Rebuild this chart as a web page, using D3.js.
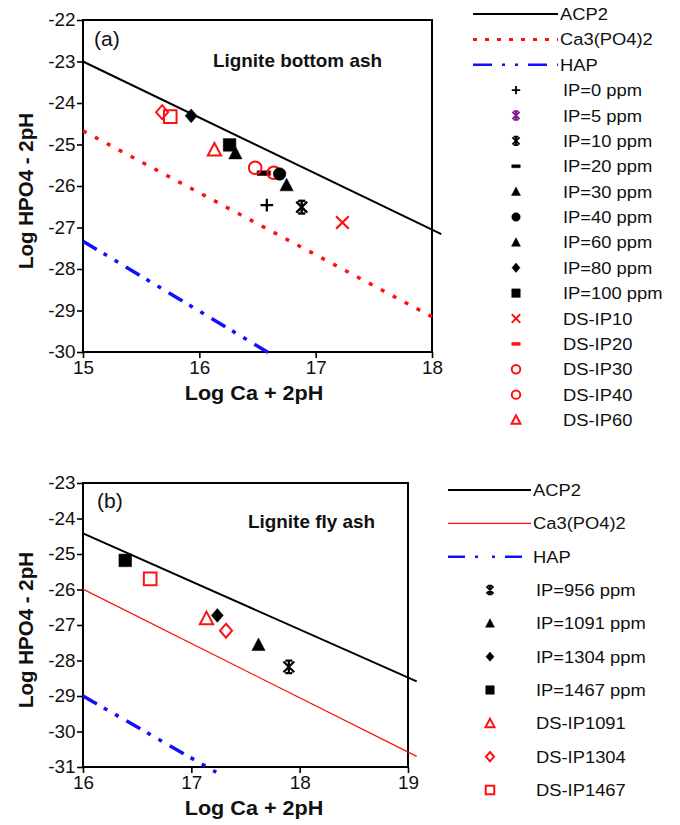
<!DOCTYPE html>
<html>
<head>
<meta charset="utf-8">
<script src="https://cdn.jsdelivr.net/npm/d3@7"></script>
<style>
  body { margin: 0; background: #fff; }
  text { font-family: "Liberation Sans", Arial, sans-serif; fill: #111; }
</style>
</head>
<body>
<div id="chart"></div>
<script>
// ---- data ----
// panel (a): lignite bottom ash
const legendA = ["ACP2", "Ca3(PO4)2", "HAP", "IP=0 ppm", "IP=5 ppm", "IP=10 ppm", "IP=20 ppm",
  "IP=30 ppm", "IP=40 ppm", "IP=60 ppm", "IP=80 ppm", "IP=100 ppm",
  "DS-IP10", "DS-IP20", "DS-IP30", "DS-IP40", "DS-IP60"];
const linesA = [
  ["ACP2", [[15, -23.0], [18.08, -27.16]]],
  ["Ca3(PO4)2", [[15, -24.67], [18.0, -29.15]]],
  ["HAP", [[15, -27.33], [16.62, -30.06]]]
];
const pointsA = [
  ["DS-IP80", 15.68, -24.22],
  ["DS-IP100", 15.75, -24.33],
  ["IP=80 ppm", 15.93, -24.31],
  ["DS-IP60", 16.13, -25.13],
  ["IP=100 ppm", 16.26, -25.01],
  ["IP=30 ppm", 16.31, -25.21],
  ["DS-IP20", 16.56, -25.69],
  ["IP=20 ppm", 16.55, -25.69],
  ["DS-IP30", 16.48, -25.56],
  ["DS-IP40", 16.64, -25.68],
  ["IP=40 ppm", 16.69, -25.71],
  ["IP=60 ppm", 16.75, -25.98],
  ["IP=0 ppm", 16.58, -26.46],
  ["IP=5 ppm", 16.88, -26.51],
  ["IP=10 ppm", 16.88, -26.51],
  ["DS-IP10", 17.23, -26.88]
];
const xTicksA = [15, 16, 17, 18];
const yTicksA = [-22, -23, -24, -25, -26, -27, -28, -29, -30];

// panel (b): lignite fly ash
const legendB = ["ACP2", "Ca3(PO4)2", "HAP", "IP=956 ppm", "IP=1091 ppm", "IP=1304 ppm",
  "IP=1467 ppm", "DS-IP1091", "DS-IP1304", "DS-IP1467"];
const linesB = [
  ["ACP2", [[16, -24.42], [19.08, -28.59]]],
  ["Ca3(PO4)2", [[16, -25.99], [19.08, -30.70]]],
  ["HAP", [[16, -29.0], [17.23, -31.15]]]
];
const pointsB = [
  ["IP=1467 ppm", 16.39, -25.18],
  ["DS-IP1467", 16.62, -25.70],
  ["DS-IP1091", 17.14, -26.82],
  ["IP=1304 ppm", 17.24, -26.73],
  ["DS-IP1304", 17.32, -27.16],
  ["IP=1091 ppm", 17.62, -27.56],
  ["IP=956 ppm", 17.90, -28.18]
];
const xTicksB = [16, 17, 18, 19];
const yTicksB = [-23, -24, -25, -26, -27, -28, -29, -30, -31];

// ---- symbol shapes ----
const shape = f => ({ draw(ctx, size) { f(ctx, Math.sqrt(size) / 2); } });
const shapes = {
  square: shape((c, r) => c.rect(-r, -r, 2 * r, 2 * r)),
  circle: shape((c, r) => { c.moveTo(r, 0); c.arc(0, 0, r, 0, 2 * Math.PI); }),
  diamond: shape((c, r) => { c.moveTo(0, -r * 1.1); c.lineTo(r * 0.95, 0); c.lineTo(0, r * 1.1); c.lineTo(-r * 0.95, 0); c.closePath(); }),
  triangle: shape((c, r) => { c.moveTo(0, -r * 1.1); c.lineTo(r * 1.05, r * 0.9); c.lineTo(-r * 1.05, r * 0.9); c.closePath(); }),
  dash: shape((c, r) => c.rect(-r, -r * 0.35, 2 * r, r * 0.7)),
  plus: shape((c, r) => { c.moveTo(-r, 0); c.lineTo(r, 0); c.moveTo(0, -r); c.lineTo(0, r); }),
  x: shape((c, r) => { c.moveTo(-r, -r); c.lineTo(r, r); c.moveTo(-r, r); c.lineTo(r, -r); }),
  asterisk: shape((c, r) => {
    c.moveTo(0, -r); c.lineTo(0, r);
    c.moveTo(-r * 0.85, -r * 0.85); c.lineTo(r * 0.85, r * 0.85);
    c.moveTo(-r * 0.85, r * 0.85); c.lineTo(r * 0.85, -r * 0.85);
    c.moveTo(-r * 0.55, -r); c.lineTo(r * 0.55, -r);
    c.moveTo(-r * 0.55, r); c.lineTo(r * 0.55, r);
  })
};
const stroked = ["plus", "x", "asterisk"];
const RED = "#ff1010", BLUE = "#1010ff", BLACK = "#000";
const SX = 1.08; // the source figure is a little stretched sideways

// style per series: [shape, colour, filled]
const markStyle = {
  "IP=0 ppm": ["plus", BLACK, false],
  "IP=5 ppm": ["asterisk", "#80188a", false],
  "IP=10 ppm": ["asterisk", BLACK, false],
  "IP=20 ppm": ["dash", BLACK, true],
  "IP=30 ppm": ["triangle", BLACK, true],
  "IP=40 ppm": ["circle", BLACK, true],
  "IP=60 ppm": ["triangle", BLACK, true],
  "IP=80 ppm": ["diamond", BLACK, true],
  "IP=100 ppm": ["square", BLACK, true],
  "DS-IP10": ["x", RED, false],
  "DS-IP20": ["dash", RED, true],
  "DS-IP30": ["circle", RED, false],
  "DS-IP40": ["circle", RED, false],
  "DS-IP60": ["triangle", RED, false],
  "DS-IP80": ["diamond", RED, false],
  "DS-IP100": ["square", RED, false],
  "IP=956 ppm": ["asterisk", BLACK, false],
  "IP=1091 ppm": ["triangle", BLACK, true],
  "IP=1304 ppm": ["diamond", BLACK, true],
  "IP=1467 ppm": ["square", BLACK, true],
  "DS-IP1091": ["triangle", RED, false],
  "DS-IP1304": ["diamond", RED, false],
  "DS-IP1467": ["square", RED, false]
};

const svg = d3.select("#chart").append("svg")
  .attr("width", 680)
  .attr("height", 825);
svg.append("rect").attr("width", 680).attr("height", 825).attr("fill", "#fff");

function drawMark(g, name, x, y, size, sw) {
  const [sh, col, filled] = markStyle[name];
  const isStroke = stroked.includes(sh);
  g.append("path")
    .attr("transform", `translate(${x},${y})`)
    .attr("d", d3.symbol().type(shapes[sh]).size(size)())
    .attr("fill", filled ? col : "none")
    .attr("stroke", col)
    .attr("stroke-width", filled ? 0.5 : (isStroke ? sw : 2));
}

function label(g, x, y, str, size, bold, anchor) {
  return g.append("text")
    .attr("transform", `translate(${x},${y}) scale(${SX},1)`)
    .attr("font-size", size)
    .attr("font-weight", bold ? "bold" : null)
    .attr("text-anchor", anchor || "start")
    .text(str);
}

function panel(cfg) {
  const g = svg.append("g");
  const x = d3.scaleLinear().domain(cfg.xDomain).range([cfg.left, cfg.right]);
  const y = d3.scaleLinear().domain(cfg.yDomain).range([cfg.bottom, cfg.top]);

  // axes
  const fmt = d => String(d);
  const ax = g.append("g")
    .attr("transform", `translate(0,${cfg.bottom})`)
    .call(d3.axisBottom(x).tickValues(cfg.xTicks).tickFormat(fmt).tickSize(6).tickPadding(4));
  const ay = g.append("g")
    .attr("transform", `translate(${cfg.left},0)`)
    .call(d3.axisLeft(y).tickValues(cfg.yTicks).tickFormat(fmt).tickSize(6).tickPadding(1));
  [ax, ay].forEach(a => {
    a.select(".domain").remove();
    a.selectAll(".tick line").attr("stroke", "#000").attr("stroke-width", 1.6);
    a.selectAll(".tick text").attr("font-size", 17.5).attr("fill", "#111")
      .attr("transform", `scale(${SX},1)`)
      .attr("font-family", "'Liberation Sans', Arial, sans-serif");
  });

  // frame
  g.append("rect")
    .attr("x", cfg.left).attr("y", cfg.top)
    .attr("width", cfg.right - cfg.left).attr("height", cfg.bottom - cfg.top)
    .attr("fill", "none").attr("stroke", "#000").attr("stroke-width", 2);

  // solubility lines
  const line = d3.line().x(d => x(d[0])).y(d => y(d[1]));
  cfg.lines.forEach(([name, pts]) => {
    const st = cfg.lineStyle[name];
    g.append("path")
      .attr("d", line(pts))
      .attr("fill", "none")
      .attr("stroke", st.color)
      .attr("stroke-width", st.width)
      .attr("stroke-dasharray", st.dash || null);
  });

  // data points
  cfg.points.forEach(([name, px, py]) => drawMark(g, name, x(px), y(py), 160, 2.2));

  // texts
  label(g, cfg.tag[1], cfg.tag[2], cfg.tag[0], 19.5, false);
  label(g, cfg.title[1], cfg.title[2], cfg.title[0], 17.5, true);
  g.append("text")
    .attr("transform", `translate(33,${(cfg.top + cfg.bottom) / 2 + 5}) rotate(-90)`)
    .attr("text-anchor", "middle").attr("font-size", 20.5).attr("font-weight", "bold")
    .text("Log HPO4 - 2pH");
  label(g, 254, cfg.bottom + 48, "Log Ca + 2pH", 20, true, "middle");

  // legend
  const ly = d3.scaleLinear().domain([0, cfg.legend.length - 1]).range(cfg.legY);
  cfg.legend.forEach((name, i) => {
    const yy = ly(i);
    const st = cfg.lineStyle[name];
    if (st) {
      g.append("line")
        .attr("x1", cfg.legLine[0]).attr("x2", cfg.legLine[1])
        .attr("y1", yy).attr("y2", yy)
        .attr("stroke", st.color).attr("stroke-width", st.legWidth || st.width)
        .attr("stroke-dasharray", st.legDash || st.dash || null);
    } else {
      drawMark(g, name, cfg.legSym, yy, 72, 1.8);
    }
    label(g, st ? cfg.legLine[1] + 2 : cfg.legText, yy + 6, name, 17, false);
  });
}

panel({
  xDomain: [15, 18], yDomain: [-30, -22],
  left: 83, right: 432, top: 20, bottom: 352,
  xTicks: xTicksA, yTicks: yTicksA,
  lines: linesA, points: pointsA, legend: legendA,
  lineStyle: {
    "ACP2": { color: BLACK, width: 2 },
    "Ca3(PO4)2": { color: RED, width: 3.5, dash: "4,9.5", legWidth: 3, legDash: "4,8" },
    "HAP": { color: BLUE, width: 3.5, dash: "16,8,4,9,4,9", legWidth: 2.5, legDash: "19,10,3,10,3,10" }
  },
  tag: ["(a)", 94, 46], title: ["Lignite bottom ash", 213, 67],
  legY: [14, 420], legLine: [473, 558], legSym: 516, legText: 563
});

panel({
  xDomain: [16, 19], yDomain: [-31, -23],
  left: 83, right: 408, top: 483, bottom: 767,
  xTicks: xTicksB, yTicks: yTicksB,
  lines: linesB, points: pointsB, legend: legendB,
  lineStyle: {
    "ACP2": { color: BLACK, width: 2 },
    "Ca3(PO4)2": { color: RED, width: 1.2 },
    "HAP": { color: BLUE, width: 3.5, dash: "16,8,4,9,4,9", legWidth: 2.5, legDash: "17,10,3,14,3,10" }
  },
  tag: ["(b)", 97, 508], title: ["Lignite fly ash", 248, 528],
  legY: [490, 790], legLine: [448, 531], legSym: 490, legText: 536
});
</script>
</body>
</html>
